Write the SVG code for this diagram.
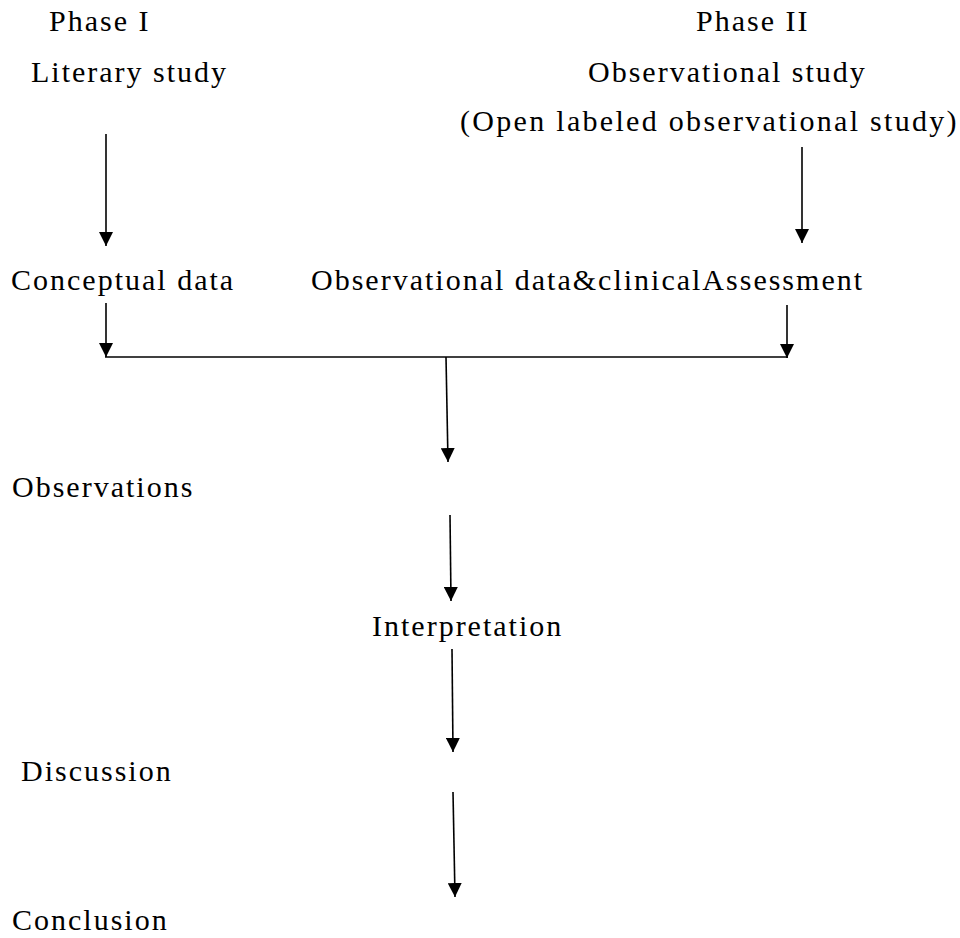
<svg xmlns="http://www.w3.org/2000/svg" width="960" height="938" viewBox="0 0 960 938">
<defs>
<style>
text{font-family:"Liberation Serif","Times New Roman",serif;font-size:30px;letter-spacing:2px;fill:#000}
.c{stroke:#000;stroke-width:1.6;fill:none}
</style>
<marker id="ah" markerUnits="userSpaceOnUse" markerWidth="14" markerHeight="14" refX="14" refY="7" orient="auto">
<path d="M0,0 L14,7 L0,14 z" fill="#000"/>
</marker>
</defs>
<rect width="960" height="938" fill="#fff"/>
<g id="phase1"><text x="49" y="31">Phase I</text></g>
<g id="literary"><text x="31" y="82">Literary study</text></g>
<g id="phase2"><text x="696" y="31">Phase II</text></g>
<g id="observational"><text x="588" y="82">Observational study</text></g>
<g id="openlabeled"><text x="460" y="131" style="letter-spacing:2.3px">(Open labeled observational study)</text></g>
<g id="conceptual"><text x="11" y="290">Conceptual data</text></g>
<g id="obsdata"><text x="311" y="290">Observational data&amp;clinicalAssessment</text></g>
<g id="observations"><text x="12" y="497">Observations</text></g>
<g id="interpretation"><text x="372" y="636">Interpretation</text></g>
<g id="discussion"><text x="21" y="781">Discussion</text></g>
<g id="conclusion"><text x="12" y="930">Conclusion</text></g>
<g id="connectors">
<line class="c" x1="106" y1="134" x2="106" y2="246" marker-end="url(#ah)"/>
<line class="c" x1="802" y1="147" x2="802" y2="243" marker-end="url(#ah)"/>
<line class="c" x1="106" y1="303" x2="106" y2="357" marker-end="url(#ah)"/>
<line class="c" x1="787" y1="305" x2="787" y2="358" marker-end="url(#ah)"/>
<line class="c" x1="105" y1="357" x2="788" y2="357"/>
<line class="c" x1="446" y1="357" x2="448" y2="462" marker-end="url(#ah)"/>
<line class="c" x1="450" y1="515" x2="451" y2="601" marker-end="url(#ah)"/>
<line class="c" x1="452" y1="649" x2="453" y2="752" marker-end="url(#ah)"/>
<line class="c" x1="453" y1="792" x2="455" y2="897" marker-end="url(#ah)"/>
</g>
</svg>
